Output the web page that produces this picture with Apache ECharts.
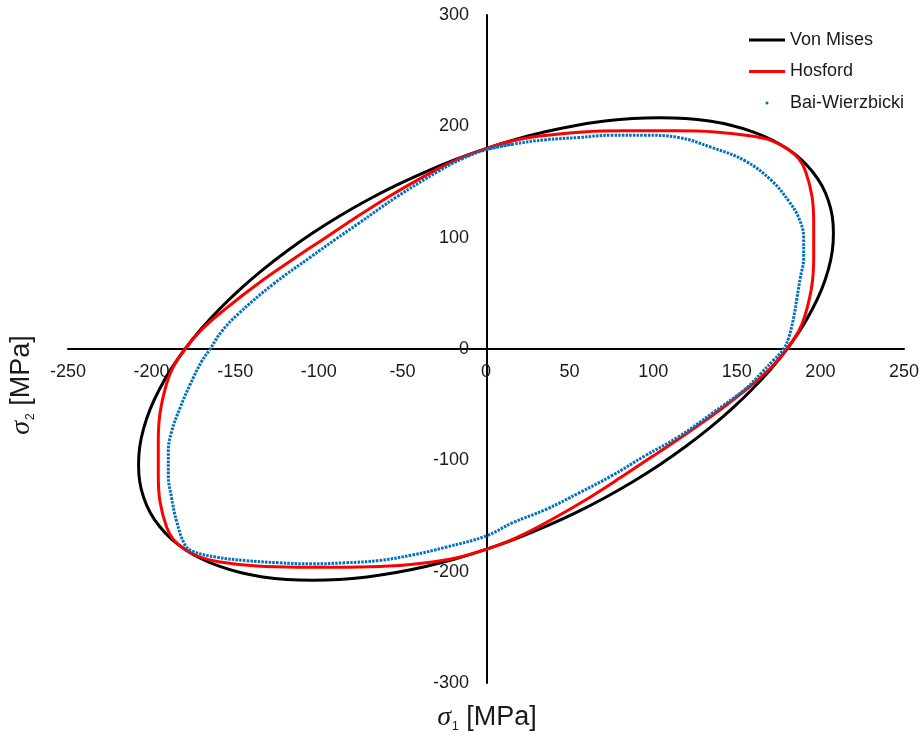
<!DOCTYPE html>
<html>
<head>
<meta charset="utf-8">
<script src="https://cdn.jsdelivr.net/npm/echarts@6/dist/echarts.min.js"></script>
<style>
  html, body { margin: 0; padding: 0; background: #fff; }
  #chart { width: 922px; height: 741px; }
</style>
</head>
<body>
<div id="chart"></div>
<script>
// Principal stresses [sigma1, sigma2] in MPa, traced counter-clockwise around each yield locus.
// The first point is repeated at the end (plus one more) so the smoothed outline closes cleanly.
const vonMises = [
  [180, 0], [188.4, 18.1], [195.3, 36.1], [200.8, 53.8], [204.7, 71.1], [207.1, 87.8], [207.8, 103.9],
  [207.1, 119.2], [204.7, 133.6], [200.8, 147.0], [195.3, 159.2], [188.4, 170.3], [180, 180],
  [170.3, 188.4], [159.2, 195.3], [147.0, 200.8], [133.6, 204.7], [119.2, 207.1], [103.9, 207.8],
  [87.8, 207.1], [71.1, 204.7], [53.8, 200.8], [36.1, 195.3], [18.1, 188.4], [0, 180],
  [-18.1, 170.3], [-36.1, 159.2], [-53.8, 147.0], [-71.1, 133.6], [-87.8, 119.2], [-103.9, 103.9],
  [-119.2, 87.8], [-133.6, 71.1], [-147.0, 53.8], [-159.2, 36.1], [-170.3, 18.1], [-180, 0],
  [-188.4, -18.1], [-195.3, -36.1], [-200.8, -53.8], [-204.7, -71.1], [-207.1, -87.8], [-207.8, -103.9],
  [-207.1, -119.2], [-204.7, -133.6], [-200.8, -147.0], [-195.3, -159.2], [-188.4, -170.3], [-180, -180],
  [-170.3, -188.4], [-159.2, -195.3], [-147.0, -200.8], [-133.6, -204.7], [-119.2, -207.1], [-103.9, -207.8],
  [-87.8, -207.1], [-71.1, -204.7], [-53.8, -200.8], [-36.1, -195.3], [-18.1, -188.4], [0, -180],
  [18.1, -170.3], [36.1, -159.2], [53.8, -147.0], [71.1, -133.6], [87.8, -119.2], [103.9, -103.9],
  [119.2, -87.8], [133.6, -71.1], [147.0, -53.8], [159.2, -36.1], [170.3, -18.1], [180, 0], [188.4, 18.1]
];

const hosford = [
  [180, 0], [187, 16], [191, 31], [195, 58], [196, 83], [196, 98], [196, 113], [195, 137], [191, 160], [187, 171], [180, 180],
  [171, 187], [160, 191], [137, 195], [113, 196], [98, 196], [83, 196], [58, 195], [31, 191], [16, 187], [0, 180],
  [-16, 171], [-31, 160], [-58, 137], [-83, 113], [-98, 98], [-113, 83], [-137, 58], [-160, 31], [-171, 16], [-180, 0],
  [-187, -16], [-191, -31], [-195, -58], [-196, -83], [-196, -98], [-196, -113], [-195, -137], [-191, -160], [-187, -171], [-180, -180],
  [-171, -187], [-160, -191], [-137, -195], [-113, -196], [-98, -196], [-83, -196], [-58, -195], [-31, -191], [-16, -187], [0, -180],
  [16, -171], [31, -160], [58, -137], [83, -113], [98, -98], [113, -83], [137, -58], [160, -31], [171, -16], [180, 0], [187, 16]
];

const baiWierzbicki = [
  [0, 179], [16, 184], [36, 188], [56, 190], [75, 192], [95, 192], [115, 190], [135, 181], [155, 169],
  [171, 151], [181, 133], [187, 118], [190, 100], [190, 82], [188, 64], [186, 46], [184, 28], [181, 10],
  [178, 0], [172, -10], [165, -21], [155, -36], [135, -58], [115, -79], [95, -96], [75, -114], [56, -129],
  [36, -144], [16, -156], [0, -168], [-24, -178], [-44, -185], [-64, -190], [-84, -192], [-104, -193],
  [-124, -192], [-144, -190], [-161, -187], [-175, -182], [-180, -176], [-185, -155], [-188, -134],
  [-190, -113], [-190, -92], [-188, -74], [-183, -53], [-177, -32], [-170, -11], [-165, 0], [-158, 16],
  [-148.5, 31], [-127.5, 58], [-104.5, 83], [-90.5, 98], [-76, 113], [-53, 137], [-28, 160], [-14, 171],
  [0, 179], [16, 184]
];

const seriesNames = ['Von Mises', 'Hosford', 'Bai-Wierzbicki'];
const sigma1Range = [-250, 250];
const sigma1Step = 50;
const sigma2Range = [-300, 300];
const sigma2Step = 100;

const textColor = '#1a1a1a';
const sansFont = '"Liberation Sans", Arial, sans-serif';

const W = 922, H = 741;
const gridBox = { left: 68, right: 16, top: 15, bottom: 58 };

const chart = echarts.init(document.getElementById('chart'), null, { renderer: 'canvas' });

// Both axes cross at zero; shift each axis (line and labels together) onto the origin.
const plotW = W - gridBox.left - gridBox.right;
const plotH = H - gridBox.top - gridBox.bottom;
const xZeroOffset = -plotW * (0 - sigma1Range[0]) / (sigma1Range[1] - sigma1Range[0]);
const yZeroOffset = -plotH * (0 - sigma2Range[0]) / (sigma2Range[1] - sigma2Range[0]);

const axisCommon = {
  type: 'value',
  splitLine: { show: false },
  axisTick: { show: false },
  axisLine: { onZero: false, lineStyle: { color: '#000', width: 2 } },
  axisLabel: { color: textColor, fontSize: 18, fontFamily: sansFont }
};

const titleRich = {
  s: { fontFamily: '"Liberation Serif", "Times New Roman", serif', fontStyle: 'italic', fontSize: 28, lineHeight: 30, fill: textColor },
  sub: { fontFamily: sansFont, fontSize: 12, lineHeight: 12, verticalAlign: 'bottom', padding: [0, 0, 0, 1], fill: textColor },
  t: { fontFamily: sansFont, fontSize: 27, lineHeight: 30, fill: textColor }
};

chart.setOption({
  animation: false,
  backgroundColor: '#fff',
  grid: Object.assign({ containLabel: false }, gridBox),
  xAxis: Object.assign({}, axisCommon, {
    position: 'bottom',
    offset: yZeroOffset,
    min: sigma1Range[0], max: sigma1Range[1], interval: sigma1Step,
    axisLabel: Object.assign({}, axisCommon.axisLabel, { margin: 14 })
  }),
  yAxis: Object.assign({}, axisCommon, {
    position: 'left',
    offset: xZeroOffset,
    min: sigma2Range[0], max: sigma2Range[1], interval: sigma2Step,
    axisLabel: Object.assign({}, axisCommon.axisLabel, { margin: 18 })
  }),
  legend: {
    orient: 'vertical',
    left: 749,
    top: 31,
    padding: 0,
    itemWidth: 36,
    itemHeight: 3,
    itemGap: 13.5,
    textStyle: { color: textColor, fontSize: 18, fontFamily: sansFont },
    data: [
      { name: seriesNames[0], icon: 'rect', itemStyle: { color: '#000' } },
      { name: seriesNames[1], icon: 'rect', itemStyle: { color: '#ff0000' } },
      { name: seriesNames[2], icon: 'circle', itemStyle: { color: '#0070c0' } }
    ]
  },
  graphic: [
    {
      type: 'text', x: 487, y: 718, silent: true,
      style: { text: '{s|σ}{sub|1}{t| [MPa]}', rich: titleRich, align: 'center', verticalAlign: 'middle' }
    },
    {
      type: 'text', x: 22, y: 385, rotation: Math.PI / 2, silent: true,
      style: { text: '{s|σ}{sub|2}{t| [MPa]}', rich: titleRich, align: 'center', verticalAlign: 'middle' }
    }
  ],
  series: [
    {
      name: seriesNames[0], type: 'line', data: vonMises, showSymbol: false, smooth: 0.3,
      lineStyle: { color: '#000', width: 3 }, itemStyle: { color: '#000' }, z: 2
    },
    {
      name: seriesNames[1], type: 'line', data: hosford, showSymbol: false, smooth: 0.35,
      lineStyle: { color: '#ff0000', width: 3 }, itemStyle: { color: '#ff0000' }, z: 3
    },
    {
      name: seriesNames[2], type: 'line', data: baiWierzbicki, showSymbol: false, smooth: 0.4,
      lineStyle: { color: '#0070c0', width: 3, type: [2.5, 1.2] }, itemStyle: { color: '#0070c0' }, z: 4
    }
  ]
});
</script>
</body>
</html>
